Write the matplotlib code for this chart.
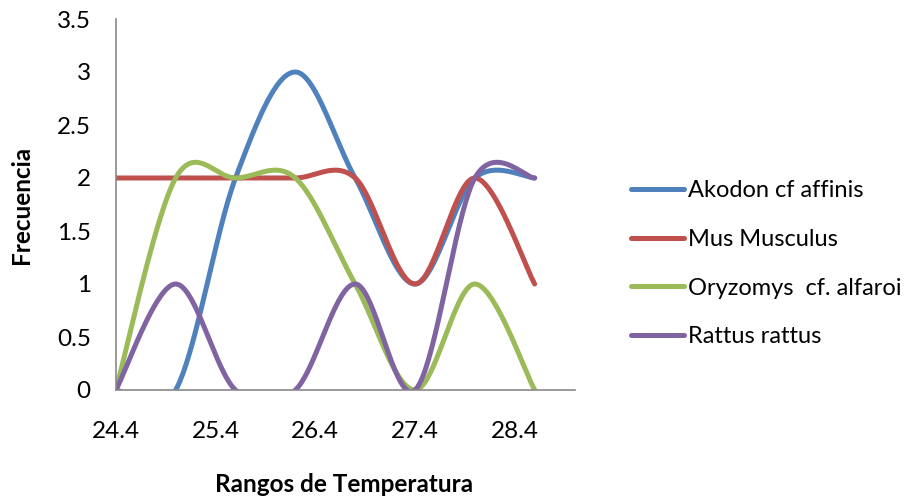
import numpy as np
import matplotlib.pyplot as plt

plt.rcParams['font.family'] = ['Lato', 'DejaVu Sans']

temps = [24.4, 25.0, 25.6, 26.2, 26.8, 27.4, 28.0, 28.6]
tick_vals = [24.4, 25.4, 26.4, 27.4, 28.4]
akodon = [0, 0, 2, 3, 2, 1, 2, 2]
mus = [2, 2, 2, 2, 2, 1, 2, 1]
oryzomys = [0, 2, 2, 2, 1, 0, 1, 0]
rattus = [0, 1, 0, 0, 1, 0, 2, 2]

series = [
    ("Akodon cf affinis", akodon, "#4F81BD"),
    ("Mus Musculus", mus, "#C0504D"),
    ("Oryzomys  cf. alfaroi", oryzomys, "#9BBB59"),
    ("Rattus rattus", rattus, "#8064A2"),
]


def smooth(x, y, n=40):
    # catmull-rom through the points, like the spreadsheet "smoothed line"
    x = np.asarray(x, float)
    y = np.asarray(y, float)
    px = np.concatenate([[x[0]], x, [x[-1]]])
    py = np.concatenate([[y[0]], y, [y[-1]]])
    xs, ys = [], []
    t = np.linspace(0, 1, n)
    for i in range(1, len(px) - 2):
        for p, out in ((px, xs), (py, ys)):
            p0, p1, p2, p3 = p[i - 1], p[i], p[i + 1], p[i + 2]
            c1 = p1 + (p2 - p0) / 6
            c2 = p2 - (p3 - p1) / 6
            b = ((1 - t) ** 3 * p1 + 3 * (1 - t) ** 2 * t * c1
                 + 3 * (1 - t) * t ** 2 * c2 + t ** 3 * p2)
            out.extend(b)
    return np.array(xs), np.array(ys)


fig = plt.figure(figsize=(9.12, 5.0), dpi=100)
ax = fig.add_axes([0.127, 0.22, 0.503, 0.742])

for name, vals, col in series:
    sx, sy = smooth(temps, vals)
    ax.plot(sx, sy, color=col, lw=3.6, label=name, solid_capstyle='round')

ax.set_xlim(24.4, 29.0)
ax.set_ylim(0, 3.5)
ax.set_xticks(tick_vals)
ax.set_xticklabels([str(v) for v in tick_vals])
ax.set_yticks(np.arange(0, 3.51, 0.5))
ax.set_yticklabels(['0', '0.5', '1', '1.5', '2', '2.5', '3', '3.5'])
ax.tick_params(length=0, labelsize=17.5)
ax.tick_params(axis='x', pad=22)
ax.tick_params(axis='y', pad=18)
for s in ['top', 'right']:
    ax.spines[s].set_visible(False)
for s in ['left', 'bottom']:
    ax.spines[s].set_color('#898989')
    ax.spines[s].set_linewidth(1.2)

fig.text(0.024, 0.59, 'Frecuencia', rotation=90, ha='center', va='center',
         fontsize=17.5, fontweight='bold')
fig.text(0.377, 0.03, 'Rangos de Temperatura', ha='center', va='center',
         fontsize=17.5, fontweight='bold')

fig.legend(loc='upper left', bbox_to_anchor=(0.681, 0.658), frameon=False,
           fontsize=17, handlelength=2.25, handletextpad=0.2,
           labelspacing=1.17, borderaxespad=0)

fig.savefig('out.png', dpi=100)
